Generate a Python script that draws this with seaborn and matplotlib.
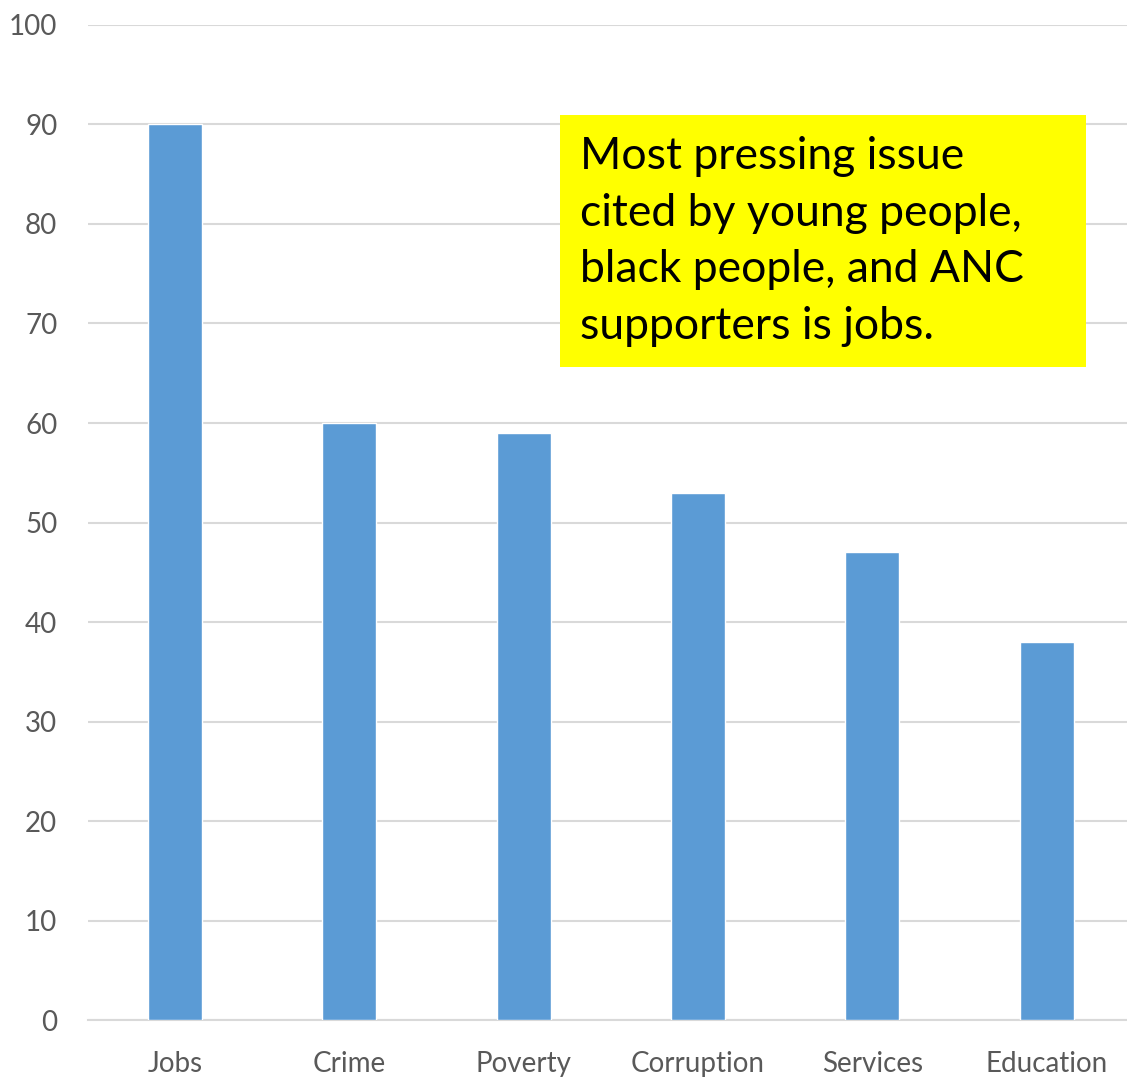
import pandas as pd
import matplotlib.pyplot as plt
from matplotlib.patches import Rectangle
import seaborn as sns

issues = ["Jobs", "Crime", "Poverty", "Corruption", "Services", "Education"]
percent = [90, 60, 59, 53, 47, 38]
y_ticks = [0, 10, 20, 30, 40, 50, 60, 70, 80, 90, 100]
note = ("Most pressing issue\ncited by young people,\n"
        "black people, and ANC\nsupporters is jobs.")

df = pd.DataFrame({"issue": issues, "percent": percent})

sns.set_style("white")
plt.rcParams["font.family"] = ["Lato", "DejaVu Sans"]

fig = plt.figure(figsize=(11.27, 10.77), dpi=100)
ax = fig.add_axes([0.078, 0.0529, 0.928, 0.9239])

sns.barplot(data=df, x="issue", y="percent", color="#5B9BD5",
            saturation=1, width=0.31, ax=ax, zorder=3)

ax.set_ylim(0, 100)
ax.set_xlim(-0.5, len(issues) - 0.5)
ax.set_yticks(y_ticks)
ax.yaxis.grid(True, color="#D9D9D9", linewidth=1.5, zorder=0)
ax.set_axisbelow(True)
ax.tick_params(axis="both", length=0, labelsize=20, labelcolor="#595959")
ax.tick_params(axis="y", pad=22)
ax.tick_params(axis="x", pad=22)
ax.set_xlabel("")
ax.set_ylabel("")
sns.despine(ax=ax, left=True, top=True, right=True, bottom=False)
ax.spines["bottom"].set_color("#D9D9D9")
ax.spines["bottom"].set_linewidth(1.5)

# yellow callout box
fig.patches.append(Rectangle((0.4969, 0.6592), 0.4667, 0.234,
                             transform=fig.transFigure, facecolor="#FFFF00",
                             edgecolor="none", zorder=5))
fig.text(0.5146, 0.8735, note, fontsize=32, color="black",
         va="top", ha="left", linespacing=1.47, zorder=6)

fig.savefig("out.png", dpi=100)
